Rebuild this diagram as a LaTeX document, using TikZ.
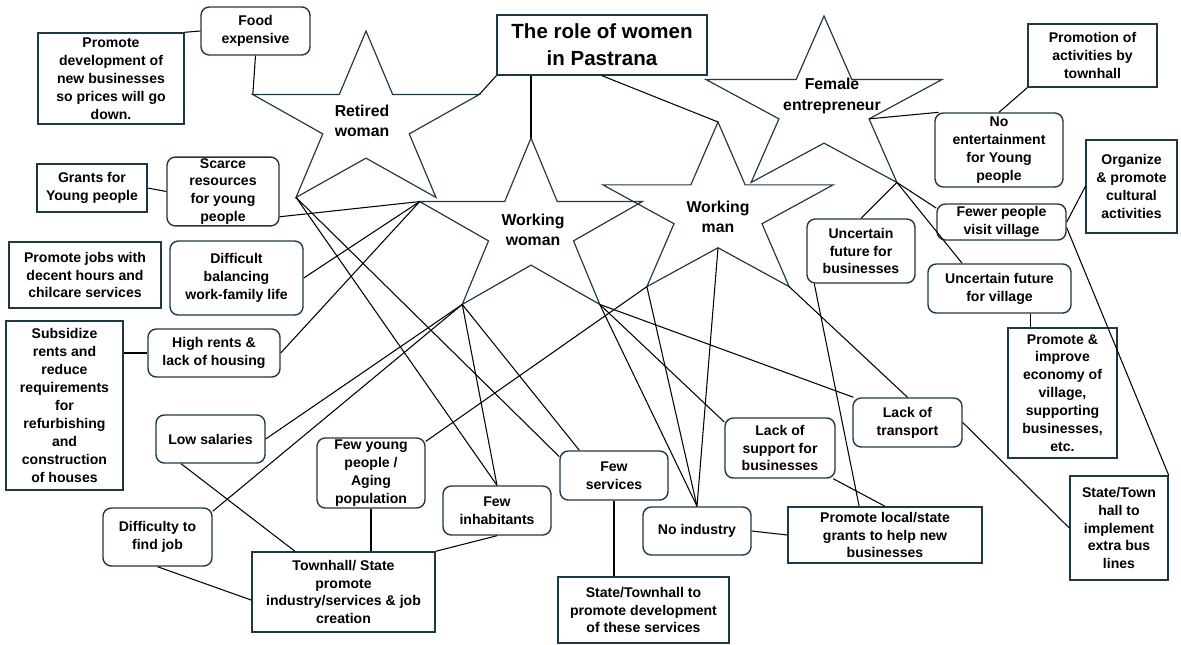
\documentclass[tikz,border=0pt]{standalone}
\usepackage{fontspec}
\setmainfont{Liberation Sans}
\definecolor{edgeblue}{RGB}{31,56,72}
\newcommand{\boxfont}{\fontsize{12}{15.3}\selectfont\bfseries}
\newcommand{\starfont}{\fontsize{13.5}{17.5}\selectfont\bfseries}
\newcommand{\titlefont}{\fontsize{17.5}{23}\selectfont\bfseries}
\tikzset{
  probbox/.style={draw=edgeblue, line width=1.2pt, rounded corners=0.25cm, fill=white, align=center, inner sep=1pt, font=\boxfont},
  solbox/.style={draw=edgeblue, line width=1.2pt, fill=white, align=center, inner sep=1pt, font=\boxfont},
  starlabel/.style={align=center, inner sep=0pt, font=\starfont},
  staredge/.style={draw=edgeblue, line width=1pt, line join=miter},
  link/.style={black, line width=0.9pt},
}
\begin{document}
\begin{tikzpicture}[x=0.03cm, y=-0.03cm]
\useasboundingbox (0,0) rectangle (1181,644);

% Drawing star Retired woman
\foreach \i in {0,...,9} {
  \pgfmathsetmacro\r{ifthenelse(mod(\i,2)==0,1,0.382)}
  \coordinate (rw-\i) at ({366+119*\r*cos(90+36*\i)},{123-92*\r*sin(90+36*\i)});
}
\draw[staredge] (rw-0) \foreach \i in {1,...,9} {-- (rw-\i)} -- cycle;
\node[starlabel] (rwtext) at (362,121) {Retired\\woman};

% Drawing star Working woman
\foreach \i in {0,...,9} {
  \pgfmathsetmacro\r{ifthenelse(mod(\i,2)==0,1,0.382)}
  \coordinate (ww-\i) at ({531+117*\r*cos(90+36*\i)},{230-92*\r*sin(90+36*\i)});
}
\draw[staredge] (ww-0) \foreach \i in {1,...,9} {-- (ww-\i)} -- cycle;
\node[starlabel] (wwtext) at (533,230) {Working\\woman};

% Drawing star Working man
\foreach \i in {0,...,9} {
  \pgfmathsetmacro\r{ifthenelse(mod(\i,2)==0,1,0.382)}
  \coordinate (wm-\i) at ({718+121*\r*cos(90+36*\i)},{213-91*\r*sin(90+36*\i)});
}
\draw[staredge] (wm-0) \foreach \i in {1,...,9} {-- (wm-\i)} -- cycle;
\node[starlabel] (wmtext) at (718,217) {Working\\man};

% Drawing star Female entrepreneur
\foreach \i in {0,...,9} {
  \pgfmathsetmacro\r{ifthenelse(mod(\i,2)==0,1,0.382)}
  \coordinate (fe-\i) at ({824+124*\r*cos(90+36*\i)},{108-92*\r*sin(90+36*\i)});
}
\draw[staredge] (fe-0) \foreach \i in {1,...,9} {-- (fe-\i)} -- cycle;
\node[starlabel] (fetext) at (832,96) {Female\\entrepreneur};

% Marking title box
\node[solbox, font=\titlefont, minimum width=6.30cm, minimum height=1.80cm] (title) at (602,45) {The role of women\\in Pastrana};

% Marking boxes on the left
\node[probbox, minimum width=3.27cm, minimum height=1.44cm] (food) at (255.5,31) {Food\\expensive};
\node[solbox, minimum width=4.38cm, minimum height=2.73cm] (promdev) at (111,78.5) {Promote\\development of\\new businesses\\so prices will go\\down.};
\node[solbox, minimum width=3.30cm, minimum height=1.44cm] (grants) at (92,188) {Grants for\\Young people};
\node[probbox, minimum width=3.36cm, minimum height=2.01cm] (scarce) at (223,191.5) {Scarce\\resources\\for young\\people};
\node[solbox, minimum width=4.56cm, minimum height=1.98cm] (promjobs) at (85,275) {Promote jobs with\\decent hours and\\chilcare services};
\node[probbox, minimum width=3.99cm, minimum height=2.22cm] (difficult) at (236.5,278) {Difficult\\balancing\\work-family life};
\node[solbox, minimum width=3.51cm, minimum height=5.07cm] (subsid) at (64.5,405.5) {Subsidize\\rents and\\reduce\\requirements\\for\\refurbishing\\and\\construction\\of houses};
\node[probbox, minimum width=3.96cm, minimum height=1.44cm] (rents) at (214,353) {High rents \&\\lack of housing};
\node[probbox, minimum width=3.27cm, minimum height=1.44cm] (salaries) at (210.5,439) {Low salaries};
\node[probbox, minimum width=3.27cm, minimum height=1.74cm] (findjob) at (157.5,537) {Difficulty to\\find job};

% Marking boxes at the bottom
\node[probbox, minimum width=3.24cm, minimum height=2.10cm] (youngpop) at (371,473) {Few young\\people /\\Aging\\population};
\node[solbox, minimum width=5.49cm, minimum height=2.40cm] (townjob) at (343.5,592) {Townhall/ State\\promote\\industry/services \& job\\creation};
\node[probbox, minimum width=3.24cm, minimum height=1.47cm] (inhab) at (497,510.5) {Few\\inhabitants};
\node[probbox, minimum width=3.24cm, minimum height=1.47cm] (services) at (614,475.5) {Few\\services};
\node[solbox, minimum width=5.13cm, minimum height=1.98cm] (stateserv) at (643.5,610) {State/Townhall to\\promote development\\of these services};
\node[probbox, minimum width=3.24cm, minimum height=1.44cm] (industry) at (697,531) {No industry};
\node[probbox, minimum width=3.30cm, minimum height=1.80cm] (support) at (780,448) {Lack of\\support for\\businesses};
\node[solbox, minimum width=5.82cm, minimum height=1.68cm] (grantsbiz) at (885,535) {Promote local/state\\grants to help new\\businesses};
\node[probbox, minimum width=3.27cm, minimum height=1.47cm] (transport) at (907.5,422.5) {Lack of\\transport};
\node[solbox, minimum width=2.94cm, minimum height=3.12cm] (busline) at (1119,528) {State/Town\\hall to\\implement\\extra bus\\lines};

% Marking boxes on the right
\node[probbox, minimum width=3.24cm, minimum height=1.92cm] (futbiz) at (861,251) {Uncertain\\future for\\businesses};
\node[probbox, minimum width=4.29cm, minimum height=1.47cm] (futvil) at (999.5,288.5) {Uncertain future\\for village};
\node[solbox, minimum width=3.27cm, minimum height=3.90cm] (economy) at (1062.5,393) {Promote \&\\improve\\economy of\\village,\\supporting\\businesses,\\etc.};
\node[probbox, minimum width=3.87cm, minimum height=1.08cm] (fewer) at (1001.5,222) {Fewer people\\visit village};
\node[solbox, minimum width=2.73cm, minimum height=2.79cm] (culture) at (1131.5,186.5) {Organize\\\& promote\\cultural\\activities};
\node[probbox, minimum width=3.84cm, minimum height=2.22cm] (noentert) at (999,150) {No\\entertainment\\for Young\\people};
\node[solbox, minimum width=3.87cm, minimum height=1.89cm] (promtown) at (1092.5,55.5) {Promotion of\\activities by\\townhall};

% Drawing links from title
\draw[link] (title.south west) -- (rw-8);
\draw[link] (title.south -| ww-0) -- (ww-0);
\draw[link] (title.south) -- (wm-0);

% Drawing links of Retired woman
\draw[link] (promdev.north east) -- (food.west);
\draw[link] (food.south) -- (rw-2);
\draw[link] (rw-4) -- (inhab.north);
\draw[link] (rw-4) -- (services.161);

% Drawing links of Working woman
\draw[link] (grants.east) -- (scarce.west);
\draw[link] (scarce.-24) -- (ww-2);
\draw[link] (difficult.east) -- (ww-2);
\draw[link] (rents.east) -- (ww-2);
\draw[link] (subsid.east |- rents.west) -- (rents.west);
\draw[link] (salaries.east) -- (ww-4);
\draw[link] (findjob.25) -- (ww-4);
\draw[link] (ww-4) -- (inhab.north);
\draw[link] (ww-4) -- (services.144);
\draw[link] (salaries.-140) -- (townjob.140);
\draw[link] (findjob.south) -- (townjob.185);
\draw[link] (youngpop.south) -- (youngpop.south |- townjob.north);
\draw[link] (inhab.south) -- (townjob.north east);
\draw[link] (services.south) -- (services.south |- stateserv.north);
\draw[link] (ww-6) -- (industry.north);
\draw[link] (ww-6) -- (support.155);
\draw[link] (ww-6) -- (transport.155);

% Drawing links of Working man
\draw[link] (youngpop.30) -- (wm-4);
\draw[link] (wm-4) -- (industry.north);
\draw[link] (wm-5) -- (industry.north);
\draw[link] (wm-6) -- (transport.north);
\draw[link] (industry.east) -- (grantsbiz.west);
\draw[link] (support.-30) -- (grantsbiz.north);
\draw[link] (transport.east) -- (busline.west);

% Drawing links of Female entrepreneur
\draw[link] (fe-7) -- (noentert.148);
\draw[link] (promtown.south west) -- (noentert.north);
\draw[link] (fe-6) -- (futbiz.north);
\draw[link] (fe-6) -- (fewer.168);
\draw[link] (fe-6) -- (futvil.146);
\draw[link] (fewer.east) -- (culture.west);
\draw[link] (fewer.-5) -- (busline.north east);
\draw[link] (futvil.-39) -- (futvil.-39 |- economy.north);
\draw[link] (futbiz.215) -- (grantsbiz.132);
\end{tikzpicture}
\end{document}
